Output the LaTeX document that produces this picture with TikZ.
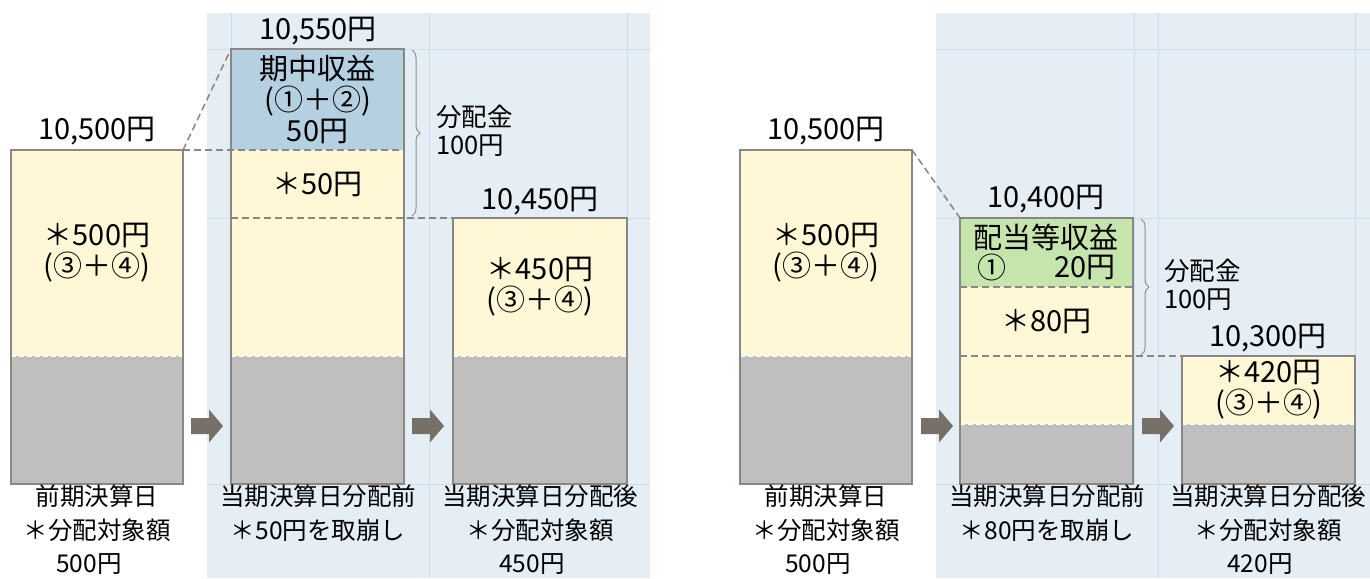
\documentclass[tikz,border=0pt]{standalone}
\usepackage{fontspec}
\setmainfont{Noto Sans CJK JP}
\usetikzlibrary{decorations.pathreplacing}
\definecolor{bgc}{HTML}{E6EEF5}
\definecolor{gridc}{HTML}{C9DFEA}
\definecolor{yelc}{HTML}{FFF7D6}
\definecolor{grayc}{HTML}{BFBFBF}
\definecolor{bluec}{HTML}{B4D0E1}
\definecolor{greenc}{HTML}{C6E5AD}
\definecolor{linec}{HTML}{8A8684}
\definecolor{arrc}{HTML}{767069}
\definecolor{bracec}{HTML}{8C8C8C}
\tikzset{
  seg/.style={inner sep=0pt, outer sep=0pt, anchor=north west, align=center},
  yel/.style={seg, fill=yelc},
  gry/.style={seg, fill=grayc},
  blu/.style={seg, fill=bluec},
  grn/.style={seg, fill=greenc},
  outl/.style={draw=linec, line width=1.5pt},
  gdash/.style={draw=linec, line width=1.5pt, dash pattern=on 7pt off 4pt},
  wdash/.style={draw=white, line width=1.5pt, dash pattern=on 5pt off 3pt},
  gridl/.style={draw=gridc, line width=0.8pt},
  lbl/.style={inner sep=0pt, align=center},
  botlbl/.style={inner sep=0pt, align=center, anchor=north, font=\fontsize{24.5}{33.5}\selectfont},
  dlbl/.style={inner sep=0pt, align=left, anchor=west, font=\fontsize{25.5}{28}\selectfont},
  brc/.style={draw=bracec, line width=1pt, decorate, decoration={brace, amplitude=8pt}},
  fatarrow/.pic={\fill[arrc] (0,-8) -- (18,-8) -- (18,-16.5) -- (32,0) -- (18,16.5) -- (18,8) -- (0,8) -- cycle;}
}
\begin{document}
\begin{tikzpicture}[x=1pt, y=-1pt, font=\fontsize{29}{31}\selectfont]
\useasboundingbox (0,0) rectangle (1370,578);
% backgrounds
\fill[bgc] (207,13) rectangle (650,578);
\fill[bgc] (936,13) rectangle (1370,578);
% grid lines
\draw[gridl] (207,49) -- (650,49);
\draw[gridl] (207,218) -- (650,218);
\draw[gridl] (207,484) -- (650,484);
\draw[gridl] (231,13) -- (231,484);
\draw[gridl] (429,13) -- (429,578);
\draw[gridl] (627,13) -- (627,484);
\draw[gridl] (936,49) -- (1370,49);
\draw[gridl] (936,218) -- (1370,218);
\draw[gridl] (936,484) -- (1370,484);
\draw[gridl] (1134,13) -- (1134,484);
\draw[gridl] (1158,13) -- (1158,578);
\draw[gridl] (1355,13) -- (1355,484);

% ---------- left panel ----------
\node[yel, minimum width=172pt, minimum height=206pt] (A1y) at (11,150) {＊500円\\(③＋④)};
\node[gry, minimum width=172pt, minimum height=128pt] (A1g) at (11,356) {};
\node[blu, minimum width=173pt, minimum height=101pt] (Bb) at (231,49) {期中収益\\(①＋②)\\50円};
\node[yel, minimum width=173pt, minimum height=68pt] (By1) at (231,150) {＊50円};
\node[yel, minimum width=173pt, minimum height=138pt] (By2) at (231,218) {};
\node[gry, minimum width=173pt, minimum height=128pt] (Bg) at (231,356) {};
\node[yel, minimum width=174pt, minimum height=138pt] (Cy) at (453,218) {＊450円\\(③＋④)};
\node[gry, minimum width=174pt, minimum height=128pt] (Cg) at (453,356) {};

\draw[wdash] (A1g.north west) -- (A1g.north east);
\draw[wdash] (Bg.north west) -- (Bg.north east);
\draw[wdash] (Cg.north west) -- (Cg.north east);

\draw[gdash] (A1y.north east) -- (Bb.north west);
\draw[gdash] (A1y.north east) -- (Bb.south east);
\draw[gdash] (By2.north west) -- (Cy.north west);

\draw[outl] (A1y.north west) rectangle (A1g.south east);
\draw[outl] (Bb.north west) rectangle (Bg.south east);
\draw[outl] (Cy.north west) rectangle (Cg.south east);

\draw[brc] (412,50) -- (412,216);

\node[lbl] (tA1) at (97,131) {10,500円};
\node[lbl] (tB) at (318,31) {10,550円};
\node[lbl] (tC) at (540,201) {10,450円};
\node[dlbl] (dL) at (436,131) {分配金\\100円};

\pic at (191,426) {fatarrow};
\pic at (412,426) {fatarrow};

\node[botlbl] (bA1) at (97,485) {前期決算日\\＊分配対象額\\500円\hspace*{16pt}};
\node[botlbl] (bB) at (318,485) {当期決算日分配前\\＊50円を取崩し};
\node[botlbl] (bC) at (540,485) {当期決算日分配後\\＊分配対象額\\450円\hspace*{16pt}};

% ---------- right panel ----------
\node[yel, minimum width=172pt, minimum height=206pt] (D1y) at (740,150) {＊500円\\(③＋④)};
\node[gry, minimum width=172pt, minimum height=128pt] (D1g) at (740,356) {};
\node[grn, minimum width=173pt, minimum height=69pt] (Eg) at (960,218) {};
\node[yel, minimum width=173pt, minimum height=69pt] (Ey1) at (960,287) {＊80円};
\node[yel, minimum width=173pt, minimum height=68pt] (Ey2) at (960,356) {};
\node[gry, minimum width=173pt, minimum height=60pt] (Egr) at (960,424) {};
\node[yel, minimum width=173pt, minimum height=68pt] (Fy) at (1182,356) {＊420円\\(③＋④)};
\node[gry, minimum width=173pt, minimum height=60pt] (Fg) at (1182,424) {};

\node[lbl] (eg1) at (1046,237) {配当等収益};
\node[lbl, anchor=west] (eg2) at (977,267) {①};
\node[lbl, anchor=east] (eg3) at (1116,267) {20円};

\draw[wdash] (D1g.north west) -- (D1g.north east);
\draw[wdash] (Egr.north west) -- (Egr.north east);
\draw[wdash] (Fg.north west) -- (Fg.north east);

\draw[gdash] (D1y.north east) -- (Eg.north west);
\draw[gdash] (Eg.south west) -- (Eg.south east);
\draw[gdash] (Ey2.north west) -- (Fy.north west);

\draw[outl] (D1y.north west) rectangle (D1g.south east);
\draw[outl] (Eg.north west) rectangle (Egr.south east);
\draw[outl] (Fy.north west) rectangle (Fg.south east);

\draw[brc] (1141,219) -- (1141,355);

\node[lbl] (tD) at (826,131) {10,500円};
\node[lbl] (tE) at (1046,199) {10,400円};
\node[lbl] (tF) at (1268,338) {10,300円};
\node[dlbl] (dR) at (1164,285) {分配金\\100円};

\pic at (921,426) {fatarrow};
\pic at (1142,426) {fatarrow};

\node[botlbl] (bD) at (826,485) {前期決算日\\＊分配対象額\\500円\hspace*{16pt}};
\node[botlbl] (bE) at (1047,485) {当期決算日分配前\\＊80円を取崩し};
\node[botlbl] (bF) at (1268,485) {当期決算日分配後\\＊分配対象額\\420円\hspace*{16pt}};
\end{tikzpicture}
\end{document}
